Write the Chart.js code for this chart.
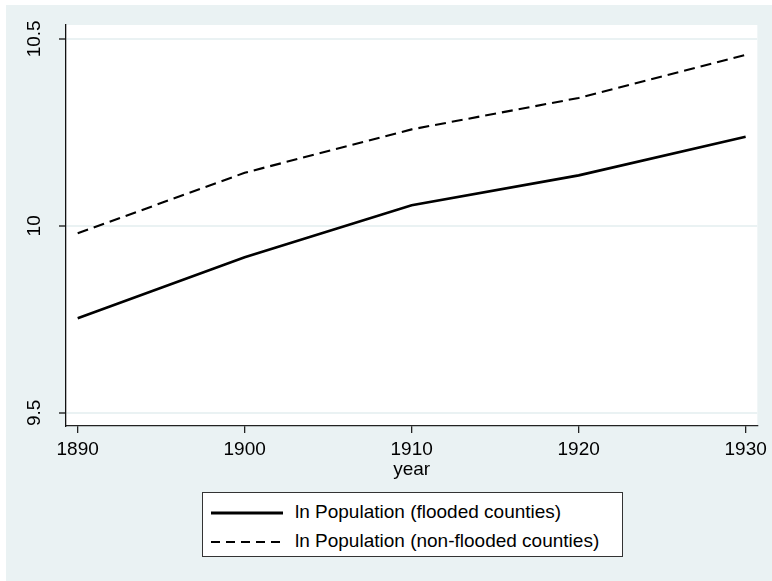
<!DOCTYPE html>
<html>
<head>
<meta charset="utf-8">
<script src="https://cdn.jsdelivr.net/npm/chart.js@4.4.1/dist/chart.umd.min.js"></script>
<style>
  html, body { margin: 0; padding: 0; background: #fff; }
  body { width: 772px; height: 581px; position: relative; overflow: hidden; font-family: "Liberation Sans", Arial, sans-serif; }
  #wrap { position: absolute; left: 6px; top: 5px; width: 766px; height: 576px; background: #eaf2f3; }
  #legend { position: absolute; left: 202px; top: 492px; width: 419px; height: 63px; background: #fff; border: 1px solid #333; }
  .row { position: absolute; left: 0; height: 24px; width: 100%; }
  .row svg { position: absolute; left: 7px; top: 0; }
  .row span { position: absolute; left: 92px; top: 0; font-size: 19px; color: #000; white-space: nowrap; }
</style>
</head>
<body>
<div id="wrap"><canvas id="myChart" width="766" height="576"></canvas></div>
<div id="legend"></div>
<script>
const years = [1890, 1900, 1910, 1920, 1930];
const flooded = [9.753, 9.916, 10.055, 10.135, 10.238];
const nonFlooded = [9.980, 10.142, 10.258, 10.342, 10.457];
const xTicks = [1890, 1900, 1910, 1920, 1930];
const yTicks = [9.5, 10, 10.5];
const seriesLabels = ['ln Population (flooded counties)', 'ln Population (non-flooded counties)'];

const toPoints = vals => years.map((y, i) => ({ x: y, y: vals[i] }));

const plotBg = {
    id: 'plotBg',
    beforeDraw(chart) {
        const { ctx, chartArea: a } = chart;
        ctx.save();
        ctx.fillStyle = '#fff';
        ctx.fillRect(a.left, a.top, a.right - a.left, a.bottom - a.top);
        ctx.restore();
    }
};

const ctx = document.getElementById('myChart').getContext('2d');
const chart = new Chart(ctx, {
    type: 'line',
    data: {
        datasets: [{
            label: seriesLabels[0],
            data: toPoints(flooded),
            borderColor: '#000',
            borderWidth: 2.6,
            pointRadius: 0,
            tension: 0
        }, {
            label: seriesLabels[1],
            data: toPoints(nonFlooded),
            borderColor: '#000',
            borderWidth: 2.1,
            borderDash: [11, 6],
            pointRadius: 0,
            tension: 0
        }]
    },
    options: {
        responsive: false,
        animation: false,
        layout: { padding: { left: 0, right: 13, top: 20, bottom: 100 } },
        plugins: {
            legend: { display: false },
            tooltip: { enabled: false }
        },
        scales: {
            x: {
                type: 'linear',
                min: 1889.3,
                max: 1930.7,
                afterBuildTicks: s => { s.ticks = xTicks.map(v => ({ value: v })); },
                afterFit: s => { s.height = 55; },
                grid: { color: 'rgba(0,0,0,0)', tickColor: '#222', tickLength: 7, lineWidth: 1.3 },
                border: { color: '#222', width: 1.3 },
                ticks: {
                    color: '#000',
                    font: { family: 'Liberation Sans', size: 19 },
                    padding: 5,
                    maxRotation: 0,
                    autoSkip: false,
                    callback: v => String(v)
                },
                title: {
                    display: true,
                    text: 'year',
                    color: '#000',
                    font: { family: 'Liberation Sans', size: 19 },
                    padding: 0
                }
            },
            y: {
                min: 9.465,
                max: 10.537,
                afterBuildTicks: s => { s.ticks = yTicks.map(v => ({ value: v })); },
                afterFit: s => { s.width = 60; },
                grid: { color: '#eaf2f3', lineWidth: 2, tickColor: '#111', tickLength: 7, tickWidth: 1.3 },
                border: { color: '#111', width: 1.3 },
                ticks: {
                    color: '#000',
                    font: { family: 'Liberation Sans', size: 19 },
                    padding: 6,
                    minRotation: 90,
                    maxRotation: 90,
                    autoSkip: false,
                    crossAlign: 'center',
                    callback: v => String(v)
                }
            }
        }
    },
    plugins: [plotBg]
});

// legend box built from the datasets
const legend = document.getElementById('legend');
chart.data.datasets.forEach((ds, i) => {
    const row = document.createElement('div');
    row.className = 'row';
    row.style.top = (i === 0 ? 8 : 37) + 'px';
    const dash = ds.borderDash ? 'stroke-dasharray="9 6"' : '';
    row.innerHTML = '<svg width="74" height="24"><line x1="1" y1="12" x2="73" y2="12" stroke="#000" stroke-width="' +
        (ds.borderDash ? 2 : 3) + '" ' + dash + '/></svg><span>' + ds.label + '</span>';
    legend.appendChild(row);
});
</script>
</body>
</html>
